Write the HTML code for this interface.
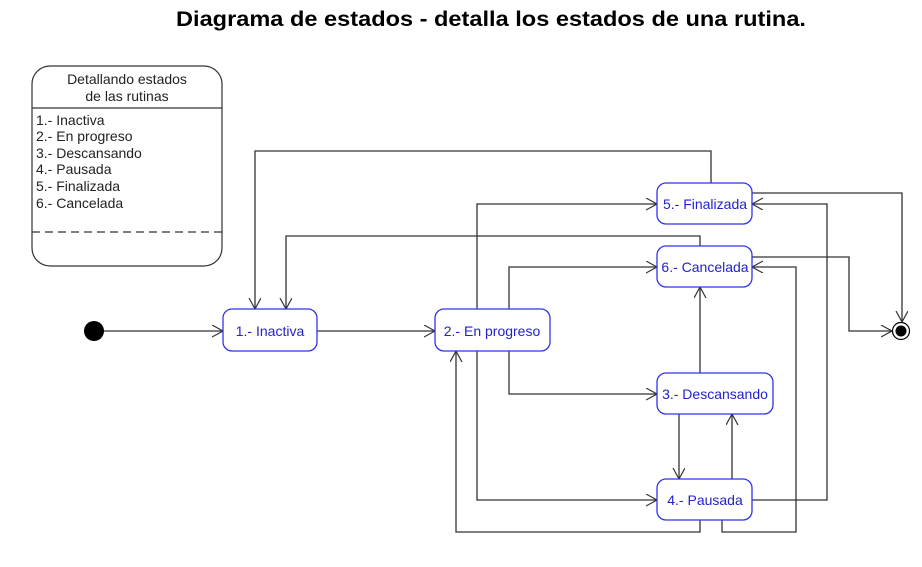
<!DOCTYPE html>
<html><head><meta charset="utf-8"><style>
body{margin:0;background:#fff;width:922px;height:562px;overflow:hidden;font-family:"Liberation Sans",Arial,sans-serif}
</style></head><body>
<svg width="922" height="562" xmlns="http://www.w3.org/2000/svg" font-family="Liberation Sans, Arial, sans-serif">
<defs>
<marker id="a" markerWidth="14" markerHeight="14" refX="11" refY="6" orient="auto" markerUnits="userSpaceOnUse">
<path d="M0,0 L11,6 L0,12" fill="none" stroke="#333" stroke-width="1.2"/>
</marker>
</defs>
<text x="491" y="26" text-anchor="middle" font-size="21" font-weight="bold" fill="#000" textLength="630" lengthAdjust="spacingAndGlyphs">Diagrama de estados - detalla los estados de una rutina.</text>
<!-- legend -->
<rect x="32" y="66" width="190" height="200" rx="18" fill="#fff" stroke="#333" stroke-width="1.2"/>
<line x1="32" y1="108" x2="222" y2="108" stroke="#333" stroke-width="1.2"/>
<line x1="32" y1="232" x2="222" y2="232" stroke="#333" stroke-width="1.2" stroke-dasharray="8,5"/>
<g font-size="14" fill="#222">
<text x="127" y="84" text-anchor="middle">Detallando estados</text>
<text x="127" y="101" text-anchor="middle">de las rutinas</text>
<text x="36" y="125">1.- Inactiva</text>
<text x="36" y="141">2.- En progreso</text>
<text x="36" y="158">3.- Descansando</text>
<text x="36" y="174">4.- Pausada</text>
<text x="36" y="191">5.- Finalizada</text>
<text x="36" y="208">6.- Cancelada</text>
</g>
<!-- connectors -->
<g fill="none" stroke="#333" stroke-width="1.3">
<line x1="94" y1="331" x2="223" y2="331" marker-end="url(#a)"/>
<line x1="317" y1="331" x2="435" y2="331" marker-end="url(#a)"/>
<polyline points="711,183 711,151 255,151 255,309" marker-end="url(#a)"/>
<polyline points="700,246 700,236 286,236 286,309" marker-end="url(#a)"/>
<polyline points="477,309 477,204 657,204" marker-end="url(#a)"/>
<polyline points="477,351 477,500 657,500" marker-end="url(#a)"/>
<polyline points="509,309 509,267 657,267" marker-end="url(#a)"/>
<polyline points="509,351 509,394 657,394" marker-end="url(#a)"/>
<polyline points="752,193 902,193 902,322" marker-end="url(#a)"/>
<polyline points="752,257 849,257 849,331 892,331" marker-end="url(#a)"/>
<polyline points="752,500 827,500 827,204 752,204" marker-end="url(#a)"/>
<polyline points="722,520 722,532 796,532 796,267 752,267" marker-end="url(#a)"/>
<polyline points="700,520 700,532 456,532 456,351" marker-end="url(#a)"/>
<line x1="700" y1="373" x2="700" y2="287" marker-end="url(#a)"/>
<line x1="679" y1="414" x2="679" y2="479" marker-end="url(#a)"/>
<line x1="732" y1="479" x2="732" y2="414" marker-end="url(#a)"/>
</g>
<!-- nodes -->
<circle cx="94" cy="331" r="10" fill="#000"/>
<circle cx="901" cy="331" r="8.5" fill="#fff" stroke="#000" stroke-width="1.2"/>
<circle cx="901" cy="331" r="5.5" fill="#000"/>
<g fill="#fff" stroke="#3333ee" stroke-width="1.3">
<rect x="223" y="309" width="94" height="42" rx="9"/>
<rect x="435" y="309" width="115" height="42" rx="9"/>
<rect x="657" y="183" width="95" height="41" rx="9"/>
<rect x="657" y="246" width="95" height="41" rx="9"/>
<rect x="657" y="373" width="116" height="41" rx="9"/>
<rect x="657" y="479" width="95" height="41" rx="9"/>
</g>
<g font-size="14" fill="#2222cc" text-anchor="middle">
<text x="270" y="336">1.- Inactiva</text>
<text x="492" y="336">2.- En progreso</text>
<text x="705" y="209">5.- Finalizada</text>
<text x="705" y="272">6.- Cancelada</text>
<text x="715" y="399">3.- Descansando</text>
<text x="705" y="505">4.- Pausada</text>
</g>
</svg>
</body></html>
